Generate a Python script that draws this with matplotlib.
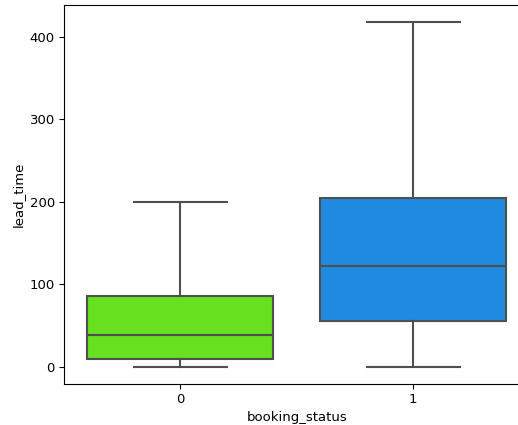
import matplotlib
matplotlib.use("Agg")
import matplotlib.pyplot as plt

# Box statistics of lead_time per booking_status
categories = ["0", "1"]
whisker_low = [0, 0]
q1 = [10, 55]
median = [39, 122]
q3 = [86, 205]
whisker_high = [200, 418]
box_colors = ["#66E01F", "#1F8AE0"]

line_color = "#4F4F4F"

plt.rcParams.update({
    "font.size": 9.5,
    "xtick.major.size": 3.3,
    "ytick.major.size": 3.3,
    "xtick.major.pad": 3.3,
    "ytick.major.pad": 3.3,
    "axes.labelpad": 3.8,
})

fig = plt.figure(figsize=(5.18, 4.25), dpi=100)
ax = fig.add_axes([64 / 518, 41 / 425, 465.5 / 518, 379 / 425])

stats = [
    dict(label=c, whislo=lo, q1=a, med=m, q3=b, whishi=hi, fliers=[])
    for c, lo, a, m, b, hi in zip(categories, whisker_low, q1, median, q3, whisker_high)
]

bp = ax.bxp(
    stats,
    positions=range(len(categories)),
    widths=0.8,
    patch_artist=True,
    showfliers=False,
    boxprops=dict(edgecolor=line_color, linewidth=1.5),
    medianprops=dict(color=line_color, linewidth=1.5),
    whiskerprops=dict(color=line_color, linewidth=1.5),
    capprops=dict(color=line_color, linewidth=1.5),
    capwidths=0.4,
)
for patch, col in zip(bp["boxes"], box_colors):
    patch.set_facecolor(col)

ax.set_xlim(-0.5, 1.5)
ax.set_ylim(-20.9, 438.9)
ax.set_xticks(range(len(categories)))
ax.set_xticklabels(categories)
ax.set_yticks([0, 100, 200, 300, 400])
ax.set_xlabel("booking_status")
ax.set_ylabel("lead_time")

fig.savefig("out.png", dpi=100)
